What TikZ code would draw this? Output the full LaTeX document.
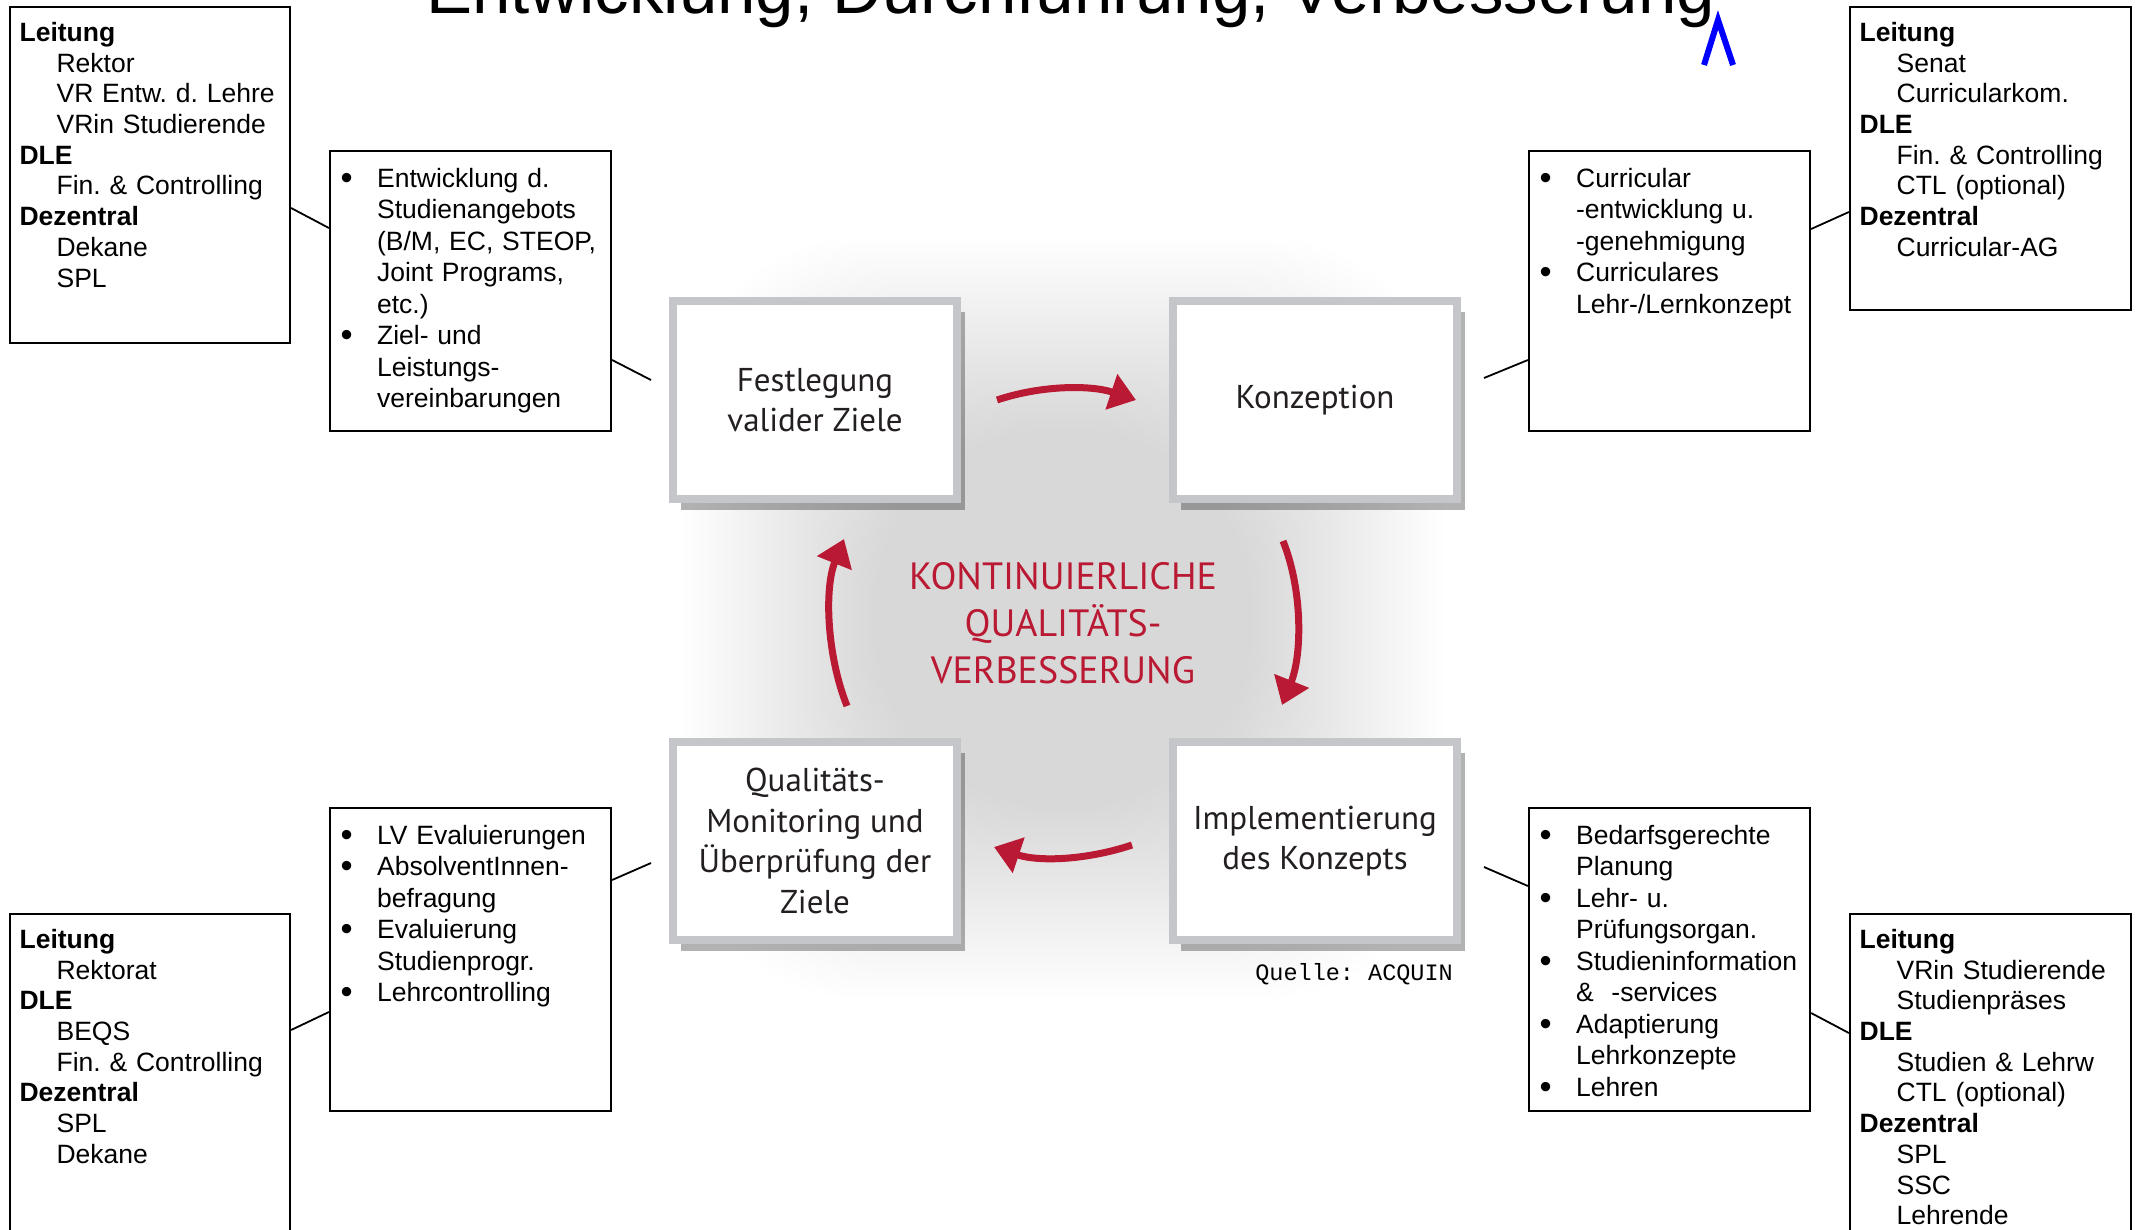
\documentclass[tikz,border=0pt]{standalone}
\usepackage{fontspec}
\setmainfont{Liberation Sans}
\newfontfamily\ptsans{PT Sans}
\newfontfamily\quellefont{Liberation Mono}
\usepackage{tikz}
\usetikzlibrary{calc, shadows, arrows.meta}

\definecolor{qred}{RGB}{185,25,50}
\definecolor{framegray}{RGB}{196,198,201}
\definecolor{inkgray}{RGB}{35,31,32}

\newcommand{\ri}{\makebox[37pt][l]{}}
\newcommand{\bu}{\makebox[38pt][l]{\hspace{1.5pt}\raisebox{-0.07em}{\scalebox{1.3}{\textbullet}}}}
\frenchspacing

\begin{document}
\begin{tikzpicture}[
        x=1pt, y=-1pt,
        procbox/.style={draw=framegray, line width=8pt, fill=white, minimum width=284pt, minimum height=198pt,
            align=center, text=inkgray, font=\ptsans\fontsize{33pt}{40.5pt}\selectfont,
            drop shadow={shadow xshift=8pt, shadow yshift=-11pt, fill=black, opacity=0.3}},
        sidebox/.style={draw, line width=2.2pt, inner sep=0pt},
        roletext/.style={anchor=base west, inner sep=0pt, text width=270pt, align=left,
            font=\fontsize{26.5pt}{30.7pt}\selectfont},
        listtext/.style={roletext, font=\fontsize{26.5pt}{31.5pt}\selectfont},
        link/.style={line width=1.8pt},
        turn/.style={draw=qred, line width=7pt, -{Triangle[length=26pt, width=36pt]}}
    ]
        \useasboundingbox (0,0) rectangle (2141,1229);
        \clip (0,0) rectangle (2141,1229);

        % Grey glow behind the cycle
        \foreach \s in {190,195,...,380}
            \fill[black, opacity=0.0048, rounded corners=180pt] ({1063-\s},{618-\s}) rectangle ({1063+\s},{618+\s});

        % Title, cut at the top edge
        \node[anchor=base west, inner sep=0pt, font=\fontsize{69pt}{80pt}\selectfont] (title) at (426,13)
            {Entwicklung, Durchführung, Verbesserung};
        \draw[blue, line width=6pt] (1704,65) -- (1718,20) -- (1733,65);

        % Cycle boxes
        \node[procbox] (fest) at (815,400) {Festlegung\\valider Ziele};
        \node[procbox] (konz) at (1315,400) {Konzeption};
        \node[procbox] (impl) at (1315,841) {Implementierung\\des Konzepts};
        \node[procbox] (qual) at (815,841) {Qualitäts-\\Monitoring und\\Überprüfung der\\Ziele};

        \node[text=qred, align=center, font=\ptsans\fontsize{38pt}{47pt}\selectfont] (kvp) at (1063,623)
            {KONTINUIERLICHE\\QUALITÄTS-\\VERBESSERUNG};

        % Cycle arrows
        \draw[turn] ([xshift=36pt]fest.east) .. controls +(45pt,15pt) and +(-45pt,15pt) .. ([xshift=-33pt]konz.west);
        \draw[turn] ([shift={(-32pt,-38pt)}]konz.south) .. controls +(20pt,-50pt) and +(20pt,50pt) .. ([shift={(-33pt,33pt)}]impl.north);
        \draw[turn] ([shift={(-37pt,-4pt)}]impl.west) .. controls +(-45pt,-15pt) and +(45pt,-15pt) .. ([shift={(33pt,-6pt)}]qual.east);
        \draw[turn] ([shift={(32pt,32pt)}]qual.north) .. controls +(-20pt,50pt) and +(-20pt,-50pt) .. ([shift={(29pt,-36pt)}]fest.south);

        \node[anchor=base east, inner sep=0pt, font=\quellefont\fontsize{23.5pt}{28pt}\selectfont] (src)
            at ([shift={(-8pt,-36pt)}]impl.south east) {Quelle: ACQUIN};

        % Festlegung: roles and tasks
        \node[sidebox, minimum width=280pt, minimum height=336pt] (roleFest) at (150,175) {};
        \node[sidebox, minimum width=281pt, minimum height=280pt] (listFest) at (470.5,291) {};
        \node[roletext] (roleFestTxt) at ([shift={(10.5pt,-35.5pt)}]roleFest.north west)
            {\textbf{Leitung}\\\ri Rektor\\\ri VR Entw. d. Lehre\\\ri VRin Studierende\\\textbf{DLE}\\\ri Fin. \& Controlling\\\textbf{Dezentral}\\\ri Dekane\\\ri SPL};
        \node[listtext] (listFestTxt) at ([shift={(10pt,-37.5pt)}]listFest.north west)
            {\bu Entwicklung d.\\\ri\hspace{1pt}Studienangebots\\\ri\hspace{1pt}(B/M, EC, STEOP,\\\ri\hspace{1pt}Joint Programs,\\\ri\hspace{1pt}etc.)\\\bu Ziel- und\\\ri\hspace{1pt}Leistungs-\\\ri\hspace{1pt}vereinbarungen};
        \draw[link] ([yshift=-33pt]roleFest.east) -- ([yshift=63pt]listFest.west);
        \draw[link] ([yshift=-69pt]listFest.east) -- ([shift={(-18pt,20pt)}]fest.west);

        % Konzeption: roles and tasks
        \node[sidebox, minimum width=281pt, minimum height=280pt] (listKonz) at (1669.5,291) {};
        \node[sidebox, minimum width=281pt, minimum height=303pt] (roleKonz) at (1990.5,158.5) {};
        \node[listtext] (listKonzTxt) at ([shift={(10pt,-37.5pt)}]listKonz.north west)
            {\bu Curricular\\\ri\hspace{1pt}-entwicklung u.\\\ri\hspace{1pt}-genehmigung\\\bu Curriculares\\\ri\hspace{1pt}Lehr-/Lernkonzept};
        \node[roletext] (roleKonzTxt) at ([shift={(10.5pt,-35.5pt)}]roleKonz.north west)
            {\textbf{Leitung}\\\ri Senat\\\ri Curricularkom.\\\textbf{DLE}\\\ri Fin. \& Controlling\\\ri CTL (optional)\\\textbf{Dezentral}\\\ri Curricular-AG};
        \draw[link] ([shift={(23pt,22pt)}]konz.east) -- ([yshift=-69pt]listKonz.west);
        \draw[link] ([yshift=62pt]listKonz.east) -- ([yshift=-53.5pt]roleKonz.west);

        % Implementierung: roles and tasks
        \node[sidebox, minimum width=281pt, minimum height=303pt] (listImpl) at (1669.5,959.5) {};
        \node[sidebox, minimum width=281pt, minimum height=346pt] (roleImpl) at (1990.5,1087) {};
        \node[listtext] (listImplTxt) at ([shift={(10pt,-37.5pt)}]listImpl.north west)
            {\bu Bedarfsgerechte\\\ri\hspace{1pt}Planung\\\bu Lehr- u.\\\ri\hspace{1pt}Prüfungsorgan.\\\bu Studieninformation\\\ri\hspace{1pt}\&\ \ -services\\\bu Adaptierung\\\ri\hspace{1pt}Lehrkonzepte\\\bu Lehren};
        \node[roletext] (roleImplTxt) at ([shift={(10.5pt,-35.5pt)}]roleImpl.north west)
            {\textbf{Leitung}\\\ri VRin Studierende\\\ri Studienpräses\\\textbf{DLE}\\\ri Studien \& Lehrw\\\ri CTL (optional)\\\textbf{Dezentral}\\\ri SPL\\\ri SSC\\\ri Lehrende};
        \draw[link] ([shift={(23pt,-26pt)}]impl.east) -- ([yshift=73.5pt]listImpl.west);
        \draw[link] ([yshift=-53.5pt]listImpl.east) -- ([yshift=54pt]roleImpl.west);

        % Qualitaets-Monitoring: roles and tasks
        \node[sidebox, minimum width=281pt, minimum height=303pt] (listQual) at (470.5,959.5) {};
        \node[sidebox, minimum width=280pt, minimum height=346pt] (roleQual) at (150,1087) {};
        \node[listtext] (listQualTxt) at ([shift={(10pt,-37.5pt)}]listQual.north west)
            {\bu LV Evaluierungen\\\bu AbsolventInnen-\\\ri\hspace{1pt}befragung\\\bu Evaluierung\\\ri\hspace{1pt}Studienprogr.\\\bu Lehrcontrolling};
        \node[roletext] (roleQualTxt) at ([shift={(10.5pt,-35.5pt)}]roleQual.north west)
            {\textbf{Leitung}\\\ri Rektorat\\\textbf{DLE}\\\ri BEQS\\\ri Fin. \& Controlling\\\textbf{Dezentral}\\\ri SPL\\\ri Dekane};
        \draw[link] ([yshift=79.5pt]listQual.east) -- ([shift={(-18pt,-22pt)}]qual.west);
        \draw[link] ([yshift=57pt]roleQual.east) -- ([yshift=-52.5pt]listQual.west);
    \end{tikzpicture}
\end{document}
